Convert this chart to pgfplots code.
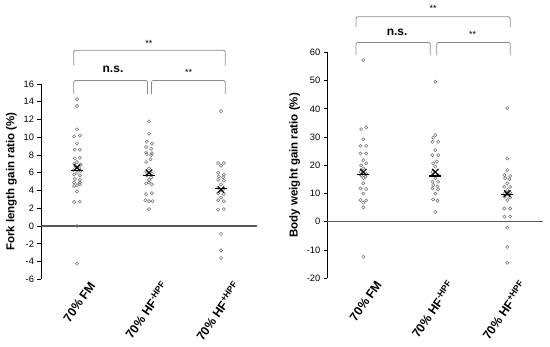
\documentclass[border=0pt]{standalone}
\usepackage{pgfplots}
\pgfplotsset{compat=1.18}
\usepackage{fontspec}
\setmainfont{Liberation Sans}
\definecolor{zline}{RGB}{89,89,89}
\definecolor{brk}{RGB}{140,140,140}
\definecolor{pt}{RGB}{110,110,110}
\pgfplotsset{
  common/.style={
    scale only axis, width=216pt, anchor=south west,
    xmin=0.5, xmax=3.5, clip=false,
    axis y line*=left, axis x line*=bottom,
    x axis line style={draw=none},
    y axis line style={black, line width=0.8pt},
    xtick={1,2,3},
    xticklabels={70\% FM, 70\% HF\textsuperscript{-HPF}, 70\% HF\textsuperscript{+HPF}},
    major x tick style={draw=none},
    tick align=outside,
    major tick length=3.5pt,
    y tick style={black, line width=0.8pt},
    x tick label style={xshift=11pt, yshift=7pt, rotate=55, anchor=north east, font=\bfseries\fontsize{12.3}{12}\selectfont},
    y tick label style={font=\fontsize{9.3}{10}\selectfont},
    ylabel style={font=\bfseries\fontsize{11.5}{12}\selectfont},
    /pgf/number format/assume math mode=true,
    pts/.style={only marks, mark=o, mark size=1.6pt, mark options={draw=pt, line width=0.5pt}},
  }
}
\begin{document}
\begin{tikzpicture}[x=1pt,y=1pt]
\path (0,0) rectangle (550,341);
\begin{axis}[common, at={(41pt,61.7pt)}, height=195.3pt,
  ymin=-6, ymax=16, ytick={-6,-4,...,16},
  ylabel={Fork length gain ratio (\%)}]
\addplot[pts] coordinates {
(1.0,14.3)(1.0,13.5)(1.0,10.9)(0.96,10.1)(1.04,10.2)(1.0,9.3)(0.97,8.6)(1.04,8.6)
(0.97,7.6)(1.04,7.7)(1.0,7.2)(0.96,7.0)(1.05,6.9)(0.98,6.7)(1.03,6.5)(0.95,6.3)
(1.05,6.2)(1.0,6.0)(0.96,5.8)(1.04,5.7)(0.97,5.3)(1.04,5.2)(0.96,4.9)(1.04,4.9)
(1.0,4.6)(0.96,4.5)(1.04,4.7)(1.0,3.9)(0.96,2.7)(1.04,2.75)(1.0,0.0)(1.0,-4.25)
};
\addplot[pts] coordinates {
(2.0,11.8)(2.0,10.4)(1.97,9.5)(2.04,9.3)(1.96,8.9)(2.03,8.7)(1.96,8.3)(2.04,8.2)
(1.97,8.1)(2.03,8.0)(2.02,7.5)(1.96,7.2)(2.0,6.5)(1.96,6.1)(2.04,5.9)(1.97,5.7)
(2.03,5.5)(2.0,5.2)(1.96,4.8)(2.04,4.7)(2.0,4.9)(1.96,3.6)(2.04,3.7)(1.95,2.9)
(2.0,2.8)(2.05,2.8)(2.0,1.9)
};
\addplot[pts] coordinates {
(3.0,12.95)(2.96,7.1)(3.04,7.1)(3.0,6.8)(2.96,6.0)(3.04,5.8)(2.97,5.6)(3.03,5.5)
(2.96,5.2)(3.04,5.1)(3.0,4.7)(2.96,4.3)(3.04,4.2)(3.0,4.0)(2.96,3.7)(3.04,3.6)
(3.0,3.2)(2.96,2.9)(3.04,2.8)(2.96,1.85)(3.04,1.9)(3.0,-0.9)(3.0,-2.75)(3.0,-3.6)
};
\addplot[only marks, mark=x, mark size=4.5pt, black, line width=1.2pt] coordinates {(1,6.6)(2,6.0)(3,4.1)};
\addplot[only marks, mark=-, mark size=6pt, black, line width=1.2pt] coordinates {(1,6.3)(2,5.7)(3,4.2)};
\addplot[zline, line width=1.4pt] coordinates {(0.5,0) (3.5,0)};
\draw[brk, line width=0.8pt, rounded corners=2pt] (axis cs:0.955,14.9) |- (axis cs:1.98,16.4) -- (axis cs:1.98,14.9);
\draw[brk, line width=0.8pt, rounded corners=2pt] (axis cs:2.035,14.9) |- (axis cs:3.06,16.4) -- (axis cs:3.06,14.9);
\draw[brk, line width=0.8pt, rounded corners=2pt] (axis cs:0.955,18.1) |- (axis cs:3.06,19.8) -- (axis cs:3.06,18.1);
\node[font=\bfseries\fontsize{12}{12}\selectfont] at (axis cs:1.5,17.6) {n.s.};
\node[font=\fontsize{9}{9}\selectfont] at (axis cs:2.55,17.3) {**};
\node[font=\fontsize{9}{9}\selectfont] at (axis cs:2.0,20.6) {**};
\end{axis}
\begin{axis}[common, at={(327.3pt,62.7pt)}, height=226pt,
  ymin=-20, ymax=60, ytick={-20,-10,...,60},
  ylabel={Body weight gain ratio (\%)}]
\addplot[pts] coordinates {
(1.0,57.2)(0.97,32.8)(1.04,33.4)(1.0,29.2)(0.96,26.9)(1.04,26.9)(0.96,24.2)(1.04,24.2)
(1.0,21.8)(1.04,20.7)(0.97,20.0)(1.0,18.9)(0.96,17.7)(1.04,17.0)(0.97,16.5)(1.03,16.0)
(1.0,15.5)(1.0,13.6)(0.96,11.8)(1.04,11.6)(1.0,10.0)(0.96,7.7)(1.04,7.5)(1.0,6.8)
(1.0,5.1)(1.0,-12.4)
};
\addplot[pts] coordinates {
(2.0,49.6)(2.0,30.7)(1.97,29.8)(1.96,28.3)(2.04,28.3)(2.0,25.4)(1.96,23.6)(2.04,23.6)
(2.02,21.3)(1.97,20.7)(2.0,19.5)(1.96,17.7)(1.96,16.5)(2.04,16.5)(2.0,15.4)(1.96,14.2)
(2.04,14.2)(1.97,13.0)(2.03,12.5)(1.96,11.8)(2.04,11.5)(2.0,10.0)(1.97,7.9)(2.03,7.5)
(2.0,3.5)
};
\addplot[pts] coordinates {
(3.0,40.2)(3.0,22.4)(3.0,18.3)(2.96,16.5)(3.04,16.2)(2.97,15.4)(3.03,15.1)(3.0,13.6)
(2.96,12.4)(3.04,12.3)(3.0,11.2)(2.96,10.0)(3.04,10.4)(3.0,9.7)(2.96,8.9)(3.04,8.6)
(3.0,7.7)(2.96,4.7)(3.04,4.7)(2.96,1.8)(3.04,1.9)(3.0,-2.1)(3.0,-8.9)(3.0,-14.5)
};
\addplot[only marks, mark=x, mark size=4.5pt, black, line width=1.2pt] coordinates {(1,17.6)(2,17.6)(3,10.0)};
\addplot[only marks, mark=-, mark size=6pt, black, line width=1.2pt] coordinates {(1,16.7)(2,16.2)(3,9.6)};
\addplot[zline, line width=1.4pt] coordinates {(0.5,0) (3.5,0)};
\draw[brk, line width=0.8pt, rounded corners=2pt] (axis cs:0.9,59.0) |- (axis cs:1.93,63.5) -- (axis cs:1.93,59.0);
\draw[brk, line width=0.8pt, rounded corners=2pt] (axis cs:2.02,59.0) |- (axis cs:3.04,63.5) -- (axis cs:3.04,59.0);
\draw[brk, line width=0.8pt, rounded corners=2pt] (axis cs:0.9,69.0) |- (axis cs:3.04,72.6) -- (axis cs:3.04,69.0);
\node[font=\bfseries\fontsize{12}{12}\selectfont] at (axis cs:1.47,67.2) {n.s.};
\node[font=\fontsize{9}{9}\selectfont] at (axis cs:2.52,66.2) {**};
\node[font=\fontsize{9}{9}\selectfont] at (axis cs:1.97,75.5) {**};
\end{axis}
\end{tikzpicture}
\end{document}
